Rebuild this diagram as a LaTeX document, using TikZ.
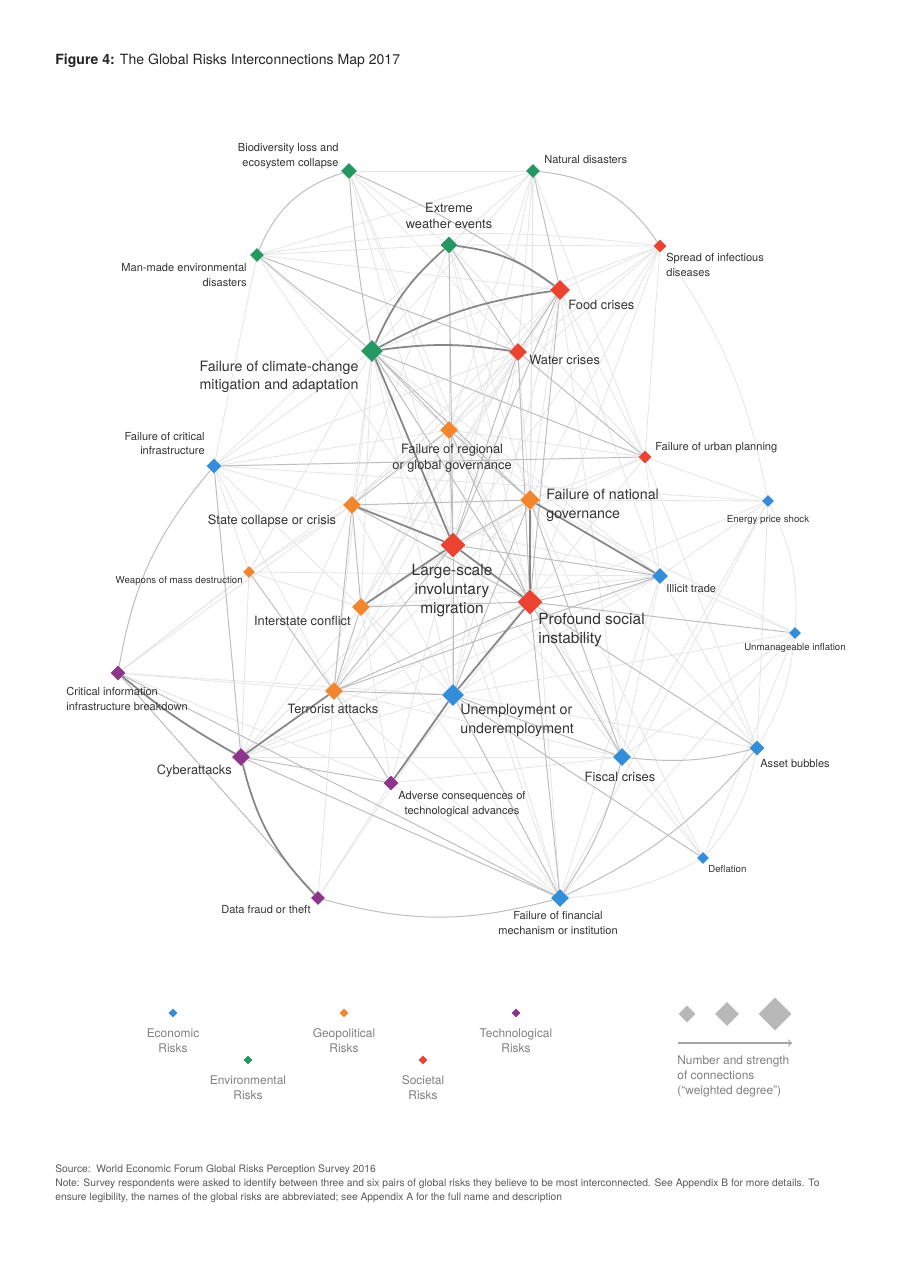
\documentclass[tikz,border=0pt]{standalone}
\usepackage{fontspec}
\setmainfont{TeX Gyre Heros}
\usetikzlibrary{shapes.geometric,backgrounds}
\definecolor{econ}{RGB}{52,141,216}
\definecolor{envi}{RGB}{38,150,98}
\definecolor{geop}{RGB}{241,134,46}
\definecolor{soci}{RGB}{236,66,50}
\definecolor{tech}{RGB}{141,53,138}

\begin{document}
\begin{tikzpicture}[x=0.02cm,y=-0.02cm,
  risk/.style={diamond,draw=none,inner sep=0pt,minimum size=#1},
  econ node/.style={risk=#1,fill=econ},
  envi node/.style={risk=#1,fill=envi},
  geop node/.style={risk=#1,fill=geop},
  soci node/.style={risk=#1,fill=soci},
  tech node/.style={risk=#1,fill=tech},
  lbl/.style={inner sep=0pt,text=black!80},
  fXL/.style={lbl,font=\fontsize{8.8}{10.8}\selectfont},
  fL/.style={lbl,font=\fontsize{8.1}{10.6}\selectfont},
  fM/.style={lbl,font=\fontsize{7.3}{9}\selectfont},
  fS/.style={lbl,font=\fontsize{6.3}{8.5}\selectfont},
  fT/.style={lbl,font=\fontsize{5.5}{8}\selectfont},
  legend text/.style={inner sep=0pt,text=black!50,align=center,font=\fontsize{6.8}{8.5}\selectfont},
  faint/.style={draw=black!10,line width=0.45pt},
  mid/.style={draw=black!26,line width=0.55pt},
  strong/.style={draw=black!47,line width=1pt}]

  \useasboundingbox (0,0) rectangle (905,1280);

  % title
  \node[lbl,anchor=west,text=black!85,font=\fontsize{8}{9}\selectfont] (title) at (55,61)
    {\textbf{Figure 4:} The Global Risks Interconnections Map 2017};

  % environmental
  \node[envi node=9.1pt] (bio) at (349,171) {};
  \node[envi node=7.9pt] (nat) at (533,171) {};
  \node[envi node=9.6pt] (ext) at (449,245) {};
  \node[envi node=7.9pt] (man) at (257,255) {};
  \node[envi node=12.5pt] (clim) at (372,351) {};
  % societal
  \node[soci node=7.4pt] (inf) at (660,246) {};
  \node[soci node=11.3pt] (food) at (560,290) {};
  \node[soci node=10.2pt] (water) at (518,352) {};
  \node[soci node=7.4pt] (urban) at (645,457) {};
  \node[soci node=14.2pt] (migr) at (453,545) {};
  \node[soci node=14.2pt] (soc) at (530,602) {};
  % geopolitical
  \node[geop node=10.2pt] (regional) at (449,430) {};
  \node[geop node=11.3pt] (national) at (530,500) {};
  \node[geop node=10.2pt] (state) at (352,505) {};
  \node[geop node=6.8pt] (wmd) at (249,572) {};
  \node[geop node=10.2pt] (inter) at (361,607) {};
  \node[geop node=10.2pt] (terr) at (334,691) {};
  % economic
  \node[econ node=8.5pt] (crit) at (214,466) {};
  \node[econ node=6.8pt] (energy) at (768,501) {};
  \node[econ node=9.1pt] (illicit) at (660,576) {};
  \node[econ node=6.8pt] (unman) at (795,633) {};
  \node[econ node=12.5pt] (unemp) at (453,695) {};
  \node[econ node=10.2pt] (fiscal) at (622,757) {};
  \node[econ node=8.5pt] (asset) at (757,748) {};
  \node[econ node=6.8pt] (defl) at (703,858) {};
  \node[econ node=10.2pt] (fin) at (560,898) {};
  % technological
  \node[tech node=8.5pt] (cii) at (118,673) {};
  \node[tech node=10.2pt] (cyber) at (241,757) {};
  \node[tech node=8.5pt] (adverse) at (391,783) {};
  \node[tech node=7.9pt] (data) at (318,898) {};

  % labels
  \node[fS,anchor=east,align=right] (biolab) at (339,156) {Biodiversity loss and\\ecosystem collapse};
  \node[fS,anchor=west] (natlab) at (544,160) {Natural disasters};
  \node[fM,align=center] (extlab) at (449,216) {Extreme\\weather events};
  \node[fS,anchor=east,align=right] (manlab) at (247,275.5) {Man-made environmental\\disasters};
  \node[fL,align=center] (climlab) at (279,377) {Failure of climate-change\\mitigation and adaptation};
  \node[fS,anchor=west,align=left] (inflab) at (666,265) {Spread of infectious\\diseases};
  \node[fM,anchor=west] (foodlab) at (568,305) {Food crises};
  \node[fM,anchor=west] (waterlab) at (529,360) {Water crises};
  \node[fM,align=center] (regionallab) at (452,458.5) {Failure of regional\\or global governance};
  \node[fS,anchor=west] (urbanlab) at (655,448) {Failure of urban planning};
  \node[fS,anchor=east,align=right] (critlab) at (205,443.5) {Failure of critical\\infrastructure};
  \node[fL,anchor=west,align=left] (nationallab) at (546,505.5) {Failure of national\\governance};
  \node[fM] (statelab) at (272,521) {State collapse or crisis};
  \node[fT] (energylab) at (768,520) {Energy price shock};
  \node[fT,anchor=east] (wmdlab) at (243,581) {Weapons of mass destruction};
  \node[fXL,align=center] (migrlab) at (452,591) {Large-scale\\involuntary\\migration};
  \node[fS,anchor=west] (illicitlab) at (666,589) {Illicit trade};
  \node[fM,anchor=east] (interlab) at (351,621) {Interstate conflict};
  \node[fXL,anchor=west,align=left] (soclab) at (538,630) {Profound social\\instability};
  \node[fT] (unmanlab) at (795,648) {Unmanageable inflation};
  \node[fS,anchor=west,align=left] (ciilab) at (66,698.5) {Critical information\\infrastructure breakdown};
  \node[fM] (terrlab) at (333,709) {Terrorist attacks};
  \node[fL,anchor=west,align=left] (unemplab) at (460,720.5) {Unemployment or\\underemployment};
  \node[fM,anchor=east] (cyberlab) at (232,771) {Cyberattacks};
  \node[fS,align=center] (adverselab) at (462,804) {Adverse consequences of\\technological advances};
  \node[fM] (fiscallab) at (620,777) {Fiscal crises};
  \node[fS,anchor=west] (assetlab) at (760,764) {Asset bubbles};
  \node[fT,anchor=west] (defllab) at (708,869) {Deflation};
  \node[fS,anchor=east] (datalab) at (311,910) {Data fraud or theft};
  \node[fS,align=center] (finlab) at (558,923) {Failure of financial\\mechanism or institution};

  \begin{scope}[on background layer]
  \fill[white] (0,0) rectangle (905,1280);

  % faint connections
  \path[faint]
    (bio) edge (nat) edge (water) edge (migr) edge (regional) edge (soc) edge (ext)
    (nat) edge (ext) edge (water) edge (clim) edge (man) edge (migr) edge (regional)
          edge (soc) edge (urban) edge (national)
    (ext) edge (man) edge (soc) edge (regional) edge (inf) edge (national) edge (urban)
          edge (crit) edge (state)
    (man) edge (food) edge (crit) edge [bend left=8] (inf) edge (migr) edge (regional)
    (clim) edge (state) edge (inter) edge (unemp) edge (crit) edge (inf) edge (terr)
           edge (fin) edge (illicit) edge (wmd)
    (inf) edge (food) edge (water) edge (urban) edge (migr) edge (soc) edge (regional)
          edge [bend left=12] (energy) edge (national)
    (food) edge (regional) edge (national) edge (state) edge (urban) edge (inter)
           edge (unemp) edge (fiscal) edge (illicit)
    (water) edge (regional) edge (national) edge (inter) edge (state) edge (terr)
            edge (unemp) edge (crit)
    (urban) edge (energy) edge (national) edge (migr) edge (soc) edge (illicit)
            edge (regional) edge (asset)
    (regional) edge (inter) edge (terr) edge (wmd) edge (unemp) edge (illicit)
               edge (crit) edge (fiscal)
    (crit) edge (state) edge (wmd) edge (terr) edge (energy) edge (inter)
    (national) edge (inter) edge (terr) edge (energy) edge (defl) edge (unman)
               edge (fin) edge (asset)
    (state) edge (wmd) edge (illicit) edge (unemp) edge (cii) edge (cyber)
    (energy) edge (illicit) edge (soc) edge (asset) edge (fiscal) edge (fin)
             edge [bend left=15] (unman)
    (wmd) edge (inter) edge (cii) edge (cyber) edge (illicit)
    (migr) edge (fiscal) edge (fin) edge (cyber) edge (adverse)
    (illicit) edge (inter) edge (unemp) edge (fin) edge (cyber) edge (fiscal)
              edge (unman) edge (asset)
    (inter) edge (unemp) edge (cyber) edge (adverse) edge (fin)
    (soc) edge (defl) edge (adverse) edge (cyber)
    (unman) edge [bend left=12] (asset) edge (fiscal) edge (fin) edge (defl) edge (unemp)
    (cii) edge (terr) edge (adverse) edge (unemp) edge (wmd)
    (terr) edge (data) edge (fin) edge (fiscal)
    (unemp) edge (asset) edge (cyber) edge (data)
    (cyber) edge (fiscal)
    (adverse) edge (fin) edge (data) edge (fiscal)
    (fiscal) edge (defl)
    (asset) edge [bend left=15] (defl)
    (defl) edge [bend left=12] (fin);

  % medium connections
  \path[mid]
    (bio) edge [bend right=25] (man) edge [bend right=3] (clim) edge [bend left=5] (food)
    (nat) edge (food) edge [bend left=25] (inf)
    (ext) edge (water) edge (migr)
    (man) edge (clim) edge (water)
    (clim) edge (regional) edge (national) edge (soc) edge (urban)
    (food) edge (water) edge (migr) edge (soc)
    (water) edge (migr) edge (soc) edge (urban)
    (urban) edge (crit)
    (regional) edge (migr) edge (soc) edge (state) edge (national)
    (crit) edge [bend right=15] (cii) edge (cyber)
    (national) edge (migr) edge (state) edge (unemp) edge (fiscal)
    (state) edge (soc) edge (inter) edge (terr)
    (wmd) edge (terr)
    (migr) edge (unemp) edge (terr) edge (illicit)
    (illicit) edge (soc) edge (terr)
    (inter) edge (terr) edge (soc)
    (soc) edge (fiscal) edge (unman) edge (asset) edge (fin) edge (terr)
    (cii) edge (fin) edge (data)
    (terr) edge (unemp) edge (adverse)
    (unemp) edge (fiscal) edge (fin) edge (defl)
    (cyber) edge (adverse) edge (fin)
    (fiscal) edge [bend right=10] (asset)
    (fin) edge [bend right=10] (fiscal) edge [bend right=12] (asset) edge [bend left=15] (data);

  % strong connections
  \path[strong]
    (clim) edge [bend left=12] (ext) edge [bend left=10] (food) edge [bend left=8] (water)
           edge (migr)
    (ext) edge [bend left=15] (food)
    (state) edge (migr)
    (migr) edge (soc) edge (inter)
    (national) edge (soc) edge (illicit)
    (soc) edge (unemp)
    (unemp) edge (adverse)
    (terr) edge (cyber)
    (cii) edge [bend right=5] (cyber)
    (cyber) edge [bend right=15] (data);
  \end{scope}

  % legend
  \node[econ node=5.1pt] (keyecon) at (173,1013) {};
  \node[envi node=5.1pt] (keyenvi) at (248,1060) {};
  \node[geop node=5.1pt] (keygeop) at (344,1013) {};
  \node[soci node=5.1pt] (keysoci) at (423,1060) {};
  \node[tech node=5.1pt] (keytech) at (516,1013) {};
  \node[legend text] (keyeconlab) at (173,1040.5) {Economic\\Risks};
  \node[legend text] (keyenvilab) at (248,1087.5) {Environmental\\Risks};
  \node[legend text] (keygeoplab) at (344,1040.5) {Geopolitical\\Risks};
  \node[legend text] (keysocilab) at (423,1087.5) {Societal\\Risks};
  \node[legend text] (keytechlab) at (516,1040.5) {Technological\\Risks};

  \node[risk=9.6pt,fill=black!28] (size1) at (687,1014) {};
  \node[risk=13.6pt,fill=black!28] (size2) at (727,1014) {};
  \node[risk=18.7pt,fill=black!28] (size3) at (775,1014) {};
  \coordinate (arrA) at (678,1043);
  \coordinate (arrB) at (792,1043);
  \draw[->,draw=black!35,line width=0.6pt] (arrA) -- (arrB);
  \node[legend text,anchor=west,align=left] (sizelab) at (677,1076)
    {Number and strength\\of connections\\(“weighted degree”)};

  % source and note
  \node[inner sep=0pt,anchor=north west,align=left,text=black!65,
    font=\fontsize{5.85}{8.2}\selectfont] (note) at (55,1164)
    {Source:\ \ World Economic Forum Global Risks Perception Survey 2016\\
     Note: Survey respondents were asked to identify between three and six pairs of global risks they believe to be most interconnected. See Appendix B for more details. To\\
     ensure legibility, the names of the global risks are abbreviated; see Appendix A for the full name and description};
\end{tikzpicture}
\end{document}
